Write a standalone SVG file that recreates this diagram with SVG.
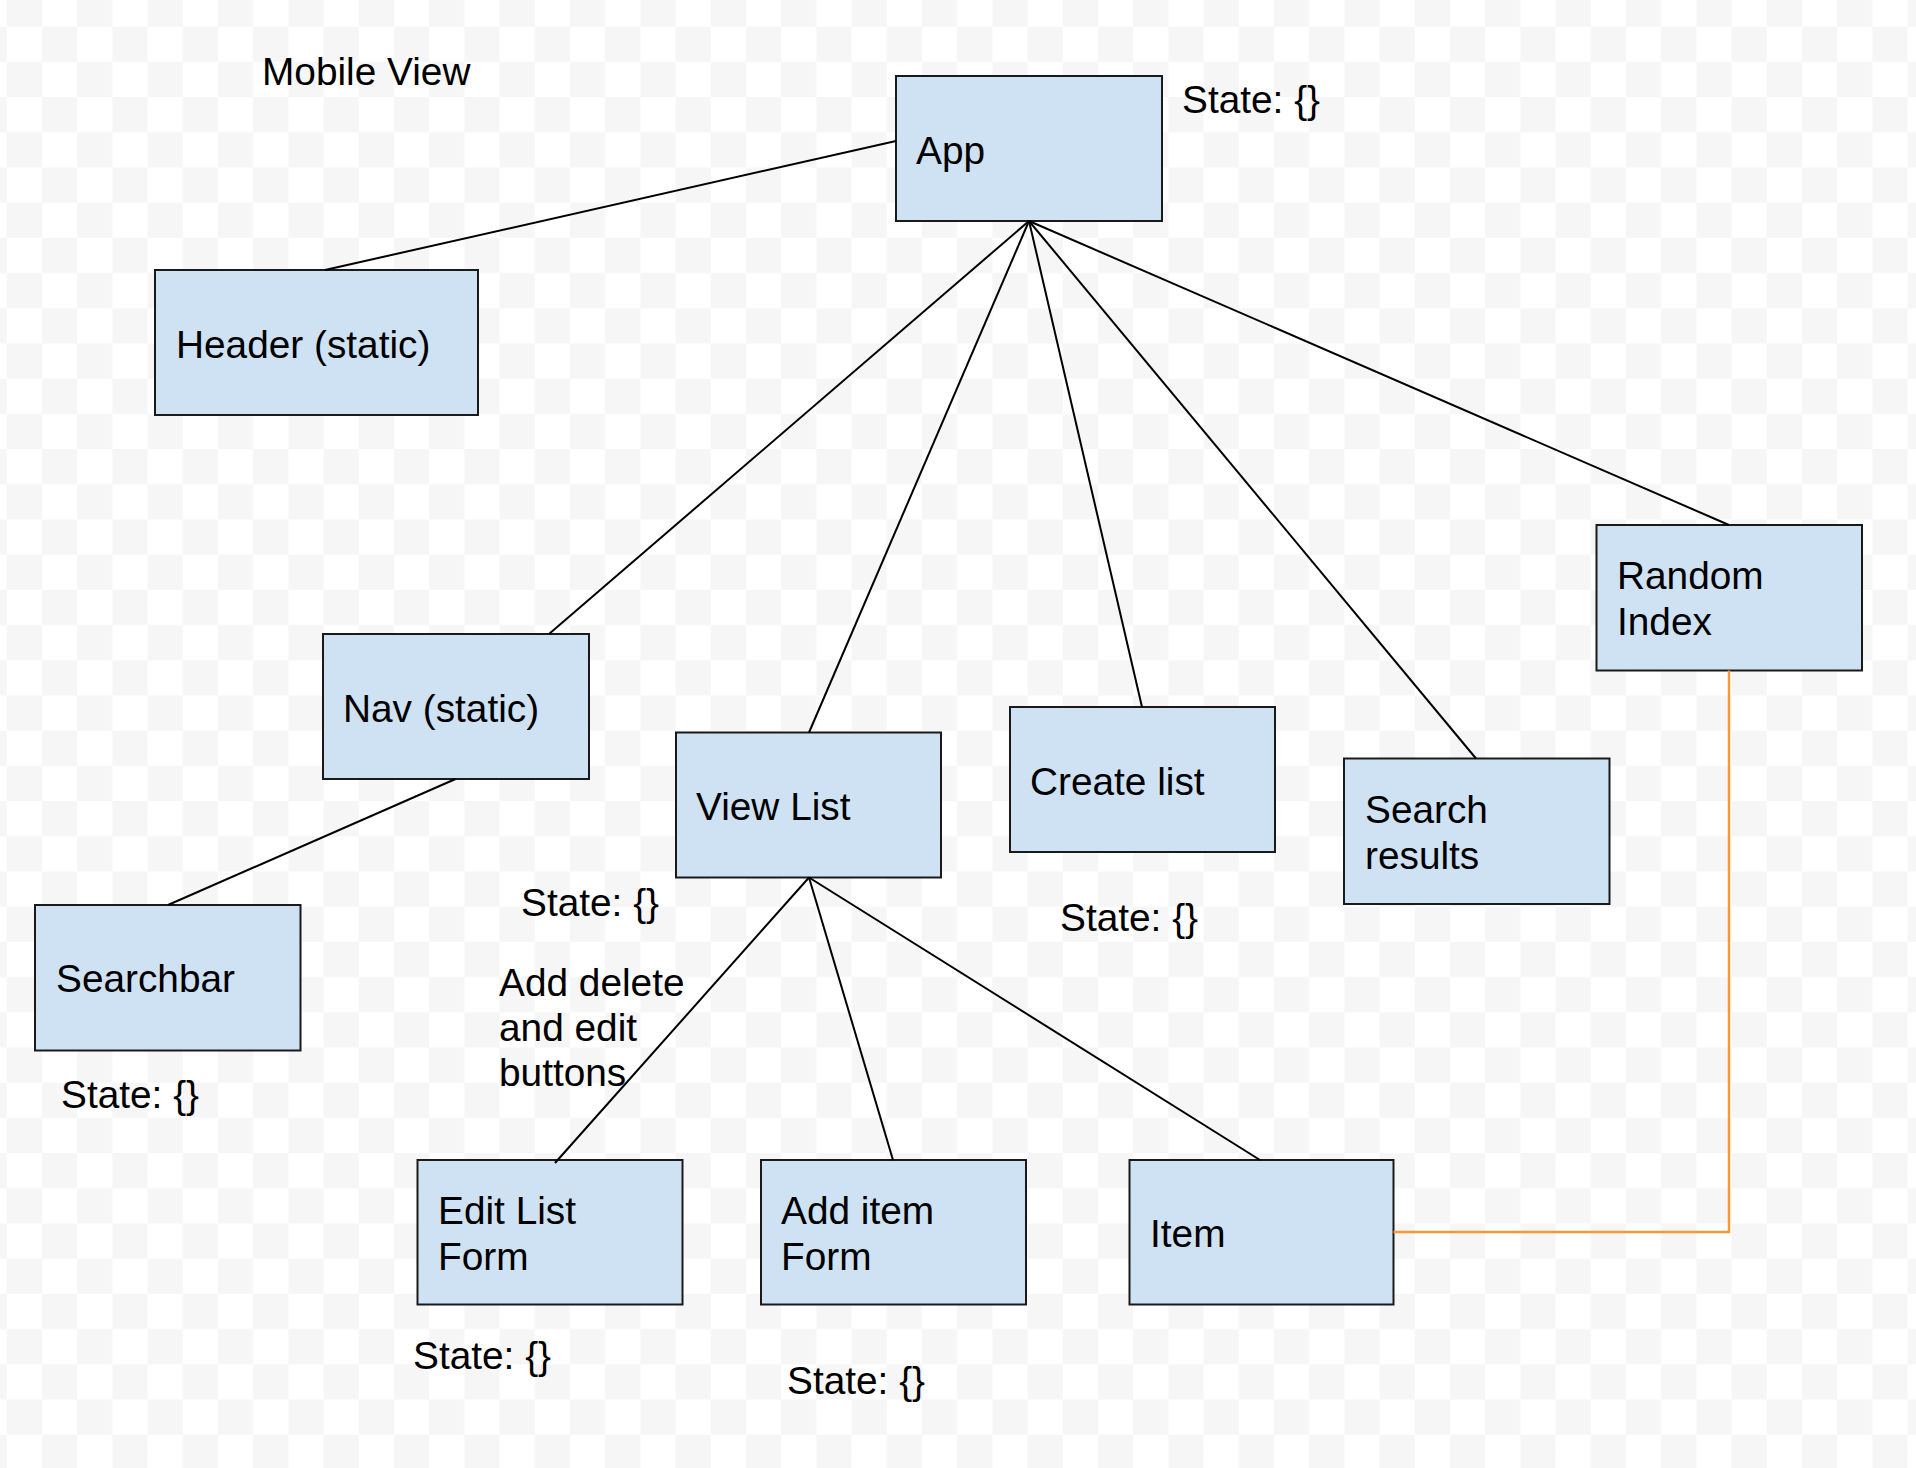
<svg xmlns="http://www.w3.org/2000/svg" width="1916" height="1468" viewBox="0 0 1916 1468">
<defs>
<pattern id="checker" patternUnits="userSpaceOnUse" x="6.7" y="26.7" width="70.4" height="70.4">
<rect x="0" y="0" width="70.4" height="70.4" fill="#ffffff"/>
<rect x="35.2" y="0" width="35.2" height="35.2" fill="#f6f6f6"/>
<rect x="0" y="35.2" width="35.2" height="35.2" fill="#f6f6f6"/>
</pattern>
</defs>
<style>
.box{fill:#cfe2f3;stroke:#1a1a1a;stroke-width:2}
.t{font-family:"Liberation Sans",Arial,sans-serif;font-size:38.8px;fill:#000}
.conn line,.conn polyline{stroke:#000;stroke-width:2;fill:none}
.conn .orange{stroke:#f59a32;stroke-width:2.5}
</style>
<rect x="0" y="0" width="1916" height="1468" fill="url(#checker)"/>

<text class="t" x="262" y="85">Mobile View</text>

<g id="node-app"><rect class="box" x="896" y="76" width="266" height="145"/><text class="t" x="916" y="164">App</text></g>
<g id="node-header"><rect class="box" x="155" y="270" width="323" height="145"/><text class="t" x="176" y="358">Header (static)</text></g>
<g id="node-nav"><rect class="box" x="323" y="634" width="266" height="145"/><text class="t" x="343" y="722">Nav (static)</text></g>
<g id="node-viewlist"><rect class="box" x="676" y="732.5" width="265" height="145"/><text class="t" x="696" y="820">View List</text></g>
<g id="node-createlist"><rect class="box" x="1010" y="707" width="265" height="145"/><text class="t" x="1030" y="795">Create list</text></g>
<g id="node-searchresults"><rect class="box" x="1344" y="758.5" width="265.5" height="145.5"/><text class="t" x="1365" y="823">Search</text><text class="t" x="1365" y="869">results</text></g>
<g id="node-randomindex"><rect class="box" x="1596.5" y="525" width="265.5" height="145.5"/><text class="t" x="1617" y="589">Random</text><text class="t" x="1617" y="635">Index</text></g>
<g id="node-searchbar"><rect class="box" x="35" y="905" width="265.5" height="145.5"/><text class="t" x="56" y="992">Searchbar</text></g>
<g id="node-editlistform"><rect class="box" x="417.5" y="1160" width="265" height="144.5"/><text class="t" x="438" y="1224">Edit List</text><text class="t" x="438" y="1270">Form</text></g>
<g id="node-additemform"><rect class="box" x="761" y="1160" width="265" height="144.5"/><text class="t" x="781" y="1224">Add item</text><text class="t" x="781" y="1270">Form</text></g>
<g id="node-item"><rect class="box" x="1129.5" y="1160" width="264" height="144.5"/><text class="t" x="1150" y="1247">Item</text></g>

<g id="connectors" class="conn">
<line x1="896" y1="141" x2="325" y2="270"/>
<line x1="1029" y1="221" x2="549" y2="634"/>
<line x1="1029" y1="221" x2="809" y2="732.5"/>
<line x1="1029" y1="221" x2="1142" y2="707"/>
<line x1="1029" y1="221" x2="1476" y2="758.5"/>
<line x1="1029" y1="221" x2="1729" y2="525"/>
<line x1="455.5" y1="779" x2="168" y2="905"/>
<line x1="809" y1="877.5" x2="555" y2="1163"/>
<line x1="809" y1="877.5" x2="893" y2="1160"/>
<line x1="809" y1="877.5" x2="1260" y2="1160"/>
<polyline class="orange" points="1393.5,1232 1729,1232 1729,670.5"/>
</g>

<g id="annotations">
<text class="t" x="1182" y="113">State: {}</text>
<text class="t" x="521" y="916">State: {}</text>
<text class="t" x="499" y="996">Add delete</text>
<text class="t" x="499" y="1041">and edit</text>
<text class="t" x="499" y="1086">buttons</text>
<text class="t" x="1060" y="931">State: {}</text>
<text class="t" x="61" y="1108">State: {}</text>
<text class="t" x="413" y="1369">State: {}</text>
<text class="t" x="787" y="1394">State: {}</text>
</g>
</svg>
